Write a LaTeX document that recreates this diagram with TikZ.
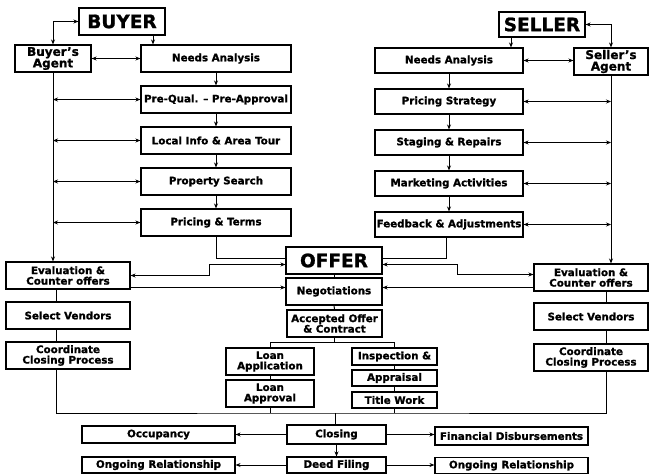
\documentclass[tikz,border=0pt]{standalone}
\usepackage{fontspec}
\setmainfont{DejaVu Sans}[BoldFeatures={FakeBold=1.2}]
\usetikzlibrary{arrows.meta}

\begin{document}
\begin{tikzpicture}[x=1pt, y=-1pt, >={Stealth[length=5pt,width=4pt]}, line width=1pt,
  box/.style={draw, line width=1.1pt, inner sep=1pt, align=center,
    font=\bfseries\fontsize{10.3}{10.5}\selectfont},
  head/.style={box, font=\bfseries\fontsize{18.5}{20}\selectfont},
  agent/.style={box, font=\bfseries\fontsize{12}{11.5}\selectfont}]
  \useasboundingbox (0,0) rectangle (649,474);

  % buyer side
  \node[head, minimum width=86, minimum height=27] (buyer) at (122,21.5) {BUYER};
  \node[agent, minimum width=76, minimum height=27] (bagent) at (53,58.5) {Buyer's\\Agent};
  \node[box, minimum width=150, minimum height=27] (bneeds) at (216,58.5) {Needs Analysis};
  \node[box, minimum width=150, minimum height=27] (bpq) at (216,99.5) {Pre-Qual. -- Pre-Approval};
  \node[box, minimum width=150, minimum height=27] (bloc) at (216,140.5) {Local Info \& Area Tour};
  \node[box, minimum width=150, minimum height=27] (bps) at (216,181.5) {Property Search};
  \node[box, minimum width=150, minimum height=27] (bpt) at (216,222.5) {Pricing \& Terms};
  \node[box, minimum width=124, minimum height=27] (beval) at (68,275.5) {Evaluation \&\\Counter offers};
  \node[box, minimum width=124, minimum height=27] (bsv) at (68,315.5) {Select Vendors};
  \node[box, minimum width=124, minimum height=27] (bcc) at (68,355.5) {Coordinate\\Closing Process};

  % seller side
  \node[head, minimum width=86, minimum height=25] (seller) at (542,24.5) {SELLER};
  \node[agent, minimum width=74, minimum height=27] (sagent) at (611,61.5) {Seller's\\Agent};
  \node[box, minimum width=148, minimum height=25] (sneeds) at (449,60.5) {Needs Analysis};
  \node[box, minimum width=148, minimum height=25] (sps) at (449,101.5) {Pricing Strategy};
  \node[box, minimum width=148, minimum height=25] (sst) at (449,142.5) {Staging \& Repairs};
  \node[box, minimum width=148, minimum height=25] (sma) at (449,183.5) {Marketing Activities};
  \node[box, minimum width=148, minimum height=25] (sfb) at (449,224.5) {Feedback \& Adjustments};
  \node[box, minimum width=114, minimum height=27] (seval) at (591,277.5) {Evaluation \&\\Counter offers};
  \node[box, minimum width=114, minimum height=27] (ssv) at (591,316.5) {Select Vendors};
  \node[box, minimum width=114, minimum height=27] (scc) at (591,357.5) {Coordinate\\Closing Process};

  % offer and closing
  \node[head, minimum width=96, minimum height=27] (offer) at (334,260.5) {OFFER};
  \node[box, minimum width=96, minimum height=27] (neg) at (334,291.5) {Negotiations};
  \node[box, minimum width=95, minimum height=27] (acc) at (334.5,323.5) {Accepted Offer\\\& Contract};
  \node[box, minimum width=88, minimum height=27] (lapp) at (270,361.5) {Loan\\Application};
  \node[box, minimum width=88, minimum height=27] (lapr) at (270,393.5) {Loan\\Approval};
  \node[box, minimum width=85, minimum height=17] (insp) at (394.5,356.5) {Inspection \&};
  \node[box, minimum width=85, minimum height=16] (appr) at (394.5,378) {Appraisal};
  \node[box, minimum width=85, minimum height=16] (title) at (394.5,400) {Title Work};
  \node[box, minimum width=99, minimum height=19] (closing) at (336.5,434.5) {Closing};
  \node[box, minimum width=99, minimum height=16] (deed) at (336.5,465) {Deed Filing};
  \node[box, minimum width=153, minimum height=17] (occ) at (158.5,434.5) {Occupancy};
  \node[box, minimum width=153, minimum height=16] (bong) at (158.5,465) {Ongoing Relationship};
  \node[box, minimum width=153, minimum height=18] (fin) at (511.5,436) {Financial Disbursements};
  \node[box, minimum width=153, minimum height=16] (song) at (511.5,465.5) {Ongoing Relationship};
  \coordinate (bus) at (335,413);

  \draw[<->] (buyer.west) -| (bagent.north);
  \draw[->] ([xshift=31pt]buyer.south) -- ([xshift=31pt]buyer.south |- bneeds.north);
  \draw[<->] (bagent.east) -- (bneeds.west);
  \draw[->] (bagent.south) -- (bagent.south |- beval.north);
  \foreach \n in {bpq,bloc,bps,bpt}
    \draw[<->] (bagent.south |- \n.west) -- (\n.west);
  \foreach \a/\b in {bneeds/bpq,bpq/bloc,bloc/bps,bps/bpt}
    \draw[->] (\a) -- (\b);
  \draw (bpt.south) |- ([yshift=2pt]offer.west);
  \draw[<->] ([yshift=-4pt]offer.west) -- ++(-76,0) |- (beval.east);
  \draw[->] ([yshift=-12pt]beval.east) -- ([yshift=-12pt]beval.east -| neg.west);
  \draw ([xshift=-12pt]beval.south) -- ([xshift=-12pt]bsv.north);
  \draw ([xshift=-12pt]bsv.south) -- ([xshift=-12pt]bcc.north);

  \draw[<->] (seller.east) -| (sagent.north);
  \draw[->] ([xshift=-31pt]seller.south) -- ([xshift=-31pt]seller.south |- sneeds.north);
  \draw[<->] (sneeds.east) -- (sneeds.east -| sagent.west);
  \draw[->] (sagent.south) -- (sagent.south |- seval.north);
  \foreach \n in {sps,sst,sma,sfb}
    \draw[<->] (\n.east) -- (\n.east -| sagent.south);
  \foreach \a/\b in {sneeds/sps,sps/sst,sst/sma,sma/sfb}
    \draw[->] (\a) -- (\b);
  \draw ([xshift=-3pt]sfb.south) |- ([yshift=2pt]offer.east);
  \draw[<->] ([yshift=-4pt]offer.east) -- ++(75,0) |- ([yshift=3pt]seval.west);
  \draw[->] ([yshift=-10pt]seval.west) -- ([yshift=-10pt]seval.west -| neg.east);
  \draw ([xshift=15pt]seval.south) -- ([xshift=15pt]ssv.north);
  \draw ([xshift=15pt]ssv.south) -- ([xshift=15pt]scc.north);

  \draw (offer) -- (neg);
  \draw (neg) -- (acc);
  \draw (acc.south) -- ++(0,5);
  \draw (lapp.north) |- ([yshift=-5pt]acc.south) -| (insp.north);
  \draw (lapp) -- (lapr);
  \draw (insp) -- (appr);
  \draw (appr) -- (title);
  \draw ([xshift=-12pt]bcc.south) |- (bus) -| ([xshift=15pt]scc.south);
  \draw (lapr.south) -- (lapr.south |- bus);
  \draw (title.south) -- (title.south |- bus);
  \draw (bus) -- (bus |- closing.north);
  \draw[->] (closing) -- (deed);
  \draw[->] (closing.west) -- (closing.west -| occ.east);
  \draw[->] (closing.east) -- (closing.east -| fin.west);
  \draw[->] (deed.west) -- (deed.west -| bong.east);
  \draw[->] (deed.east) -- (deed.east -| song.west);
\end{tikzpicture}
\end{document}
